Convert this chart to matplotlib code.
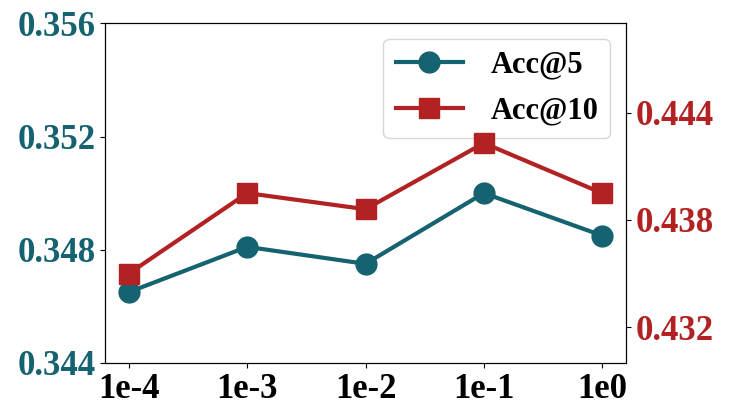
import matplotlib
matplotlib.use("Agg")
import matplotlib.pyplot as plt

plt.rcParams['font.family'] = ['Liberation Serif', 'DejaVu Serif']
plt.rcParams['font.weight'] = 'bold'

x_labels = ["1e-4", "1e-3", "1e-2", "1e-1", "1e0"]
acc5 = [0.3465, 0.3481, 0.3475, 0.3500, 0.3485]
acc10 = [0.4350, 0.4395, 0.4386, 0.4423, 0.4395]

teal = "#156270"
red = "#b22222"

fig, ax1 = plt.subplots(figsize=(7.31, 4.18), dpi=100)
fig.subplots_adjust(left=0.144, right=0.856, bottom=0.132, top=0.944)

xs = range(len(x_labels))
l1, = ax1.plot(xs, acc5, color=teal, marker='o', markersize=15, linewidth=3, label="Acc@5")
ax1.set_ylim(0.344, 0.356)
ax1.set_yticks([0.344, 0.348, 0.352, 0.356])
ax1.set_yticklabels(["0.344", "0.348", "0.352", "0.356"])
ax1.tick_params(axis='y', labelcolor=teal, labelsize=25)
ax1.tick_params(axis='x', labelsize=25)
ax1.set_xticks(list(xs))
ax1.set_xticklabels(x_labels)

ax2 = ax1.twinx()
l2, = ax2.plot(xs, acc10, color=red, marker='s', markersize=15, linewidth=3, label="Acc@10")
ax2.set_ylim(0.430, 0.449)
ax2.set_yticks([0.432, 0.438, 0.444])
ax2.set_yticklabels(["0.432", "0.438", "0.444"])
ax2.tick_params(axis='y', labelcolor=red, labelsize=25)

ax1.legend(handles=[l1, l2], loc='upper right',
           prop={'weight': 'bold', 'size': 22}, handlelength=2.2,
           labelspacing=0.55, handletextpad=0.9, borderaxespad=0.5)

fig.savefig("out.png", dpi=100)
